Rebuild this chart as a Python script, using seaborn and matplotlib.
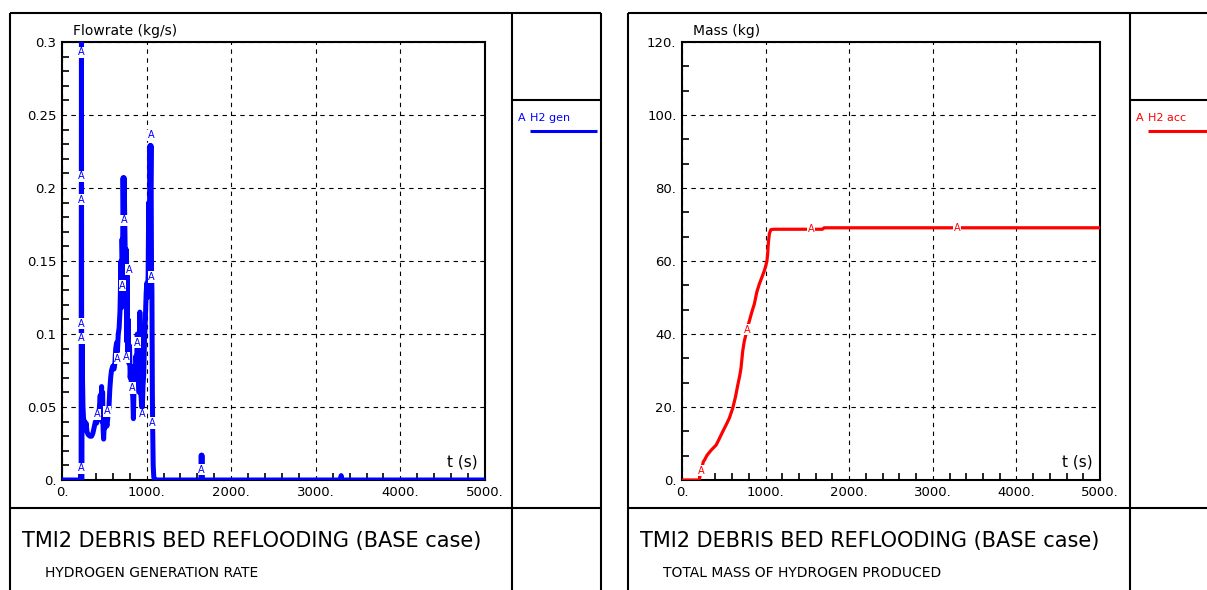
import numpy as np
import pandas as pd
import matplotlib
matplotlib.use("Agg")
import matplotlib.pyplot as plt
from matplotlib.lines import Line2D
from matplotlib.ticker import MultipleLocator
import seaborn as sns

# ---------------- data ----------------
# hydrogen generation rate (kg/s) vs time (s)
gen_t = [0, 226, 230, 233, 236, 242, 248, 255, 265, 275,
         285, 295, 310, 330, 350, 365, 380, 395, 410, 425,
         440, 452, 460, 468, 474, 480, 486, 492, 500, 510,
         520, 532, 545, 555, 565, 575, 585, 600, 615, 625,
         635, 645, 655, 665, 675, 685, 690, 697, 703, 710,
         716, 722, 728, 734, 740, 746, 752, 758, 764, 770,
         776, 782, 790, 798, 806, 814, 822, 830, 838, 844,
         850, 858, 866, 874, 882, 890, 898, 906, 914, 920,
         926, 934, 942, 950, 958, 966, 975, 985, 995, 1003,
         1010, 1018, 1025, 1032, 1040, 1046, 1052, 1058, 1063, 1068,
         1072, 1078, 1085, 1095, 1643, 1646, 1650, 1654, 1658, 3295,
         3300, 3305, 5000]
gen_v = [0.0, 0.0, 0.30, 0.0, 0.100, 0.070, 0.050, 0.042, 0.040, 0.036,
         0.039, 0.033, 0.031, 0.030, 0.030, 0.032, 0.036, 0.040, 0.039, 0.044,
         0.048, 0.058, 0.045, 0.064, 0.040, 0.060, 0.035, 0.028, 0.038, 0.036,
         0.040, 0.037, 0.045, 0.050, 0.062, 0.070, 0.075, 0.078, 0.076, 0.080,
         0.090, 0.094, 0.088, 0.100, 0.104, 0.115, 0.128, 0.150, 0.118, 0.165,
         0.150, 0.207, 0.180, 0.207, 0.185, 0.160, 0.130, 0.158, 0.095, 0.140,
         0.085, 0.110, 0.080, 0.092, 0.070, 0.078, 0.060, 0.066, 0.055, 0.042,
         0.060, 0.078, 0.070, 0.085, 0.078, 0.100, 0.088, 0.095, 0.060, 0.115,
         0.070, 0.058, 0.050, 0.050, 0.065, 0.072, 0.095, 0.110, 0.128, 0.135,
         0.125, 0.140, 0.190, 0.165, 0.229, 0.200, 0.229, 0.145, 0.130, 0.060,
         0.035, 0.010, 0.002, 0.0, 0.0, 0.017, 0.0, 0.017, 0.0, 0.0,
         0.003, 0.0, 0.0]
# curve-identifier "A" labels on the generation-rate curve
gen_mark_t = [226, 230, 230, 230, 230, 230, 417, 536, 655, 714,
              734, 754, 794, 826, 893, 953, 1052, 1058, 1072, 1650]
gen_mark_v = [0.293, 0.208, 0.192, 0.107, 0.097, 0.008, 0.045, 0.047, 0.083, 0.133,
              0.178, 0.084, 0.144, 0.063, 0.094, 0.045, 0.236, 0.139, 0.039, 0.007]

# accumulated hydrogen mass (kg) vs time (s)
acc_t = [0, 205, 230, 255, 270, 300, 350, 409, 450, 488,
         530, 567, 607, 640, 667, 690, 706, 726, 745, 766,
         786, 806, 835, 865, 895, 925, 955, 984, 1000, 1016,
         1025, 1032, 1045, 1063, 1100, 1680, 1700, 5000]
acc_m = [0, 0, 2.5, 5.0, 5.5, 6.8, 8.2, 9.6, 11.5, 13.3,
         15.2, 17.0, 19.7, 22.8, 26.0, 28.5, 30.7, 35.3, 38.0, 40.0,
         42.0, 43.6, 46.0, 48.2, 51.5, 53.7, 55.5, 57.3, 58.5, 60.0,
         62.0, 64.7, 67.5, 68.6, 68.7, 68.7, 69.1, 69.1]
acc_mark_t = [230, 778, 1540, 3290]

x_ticks = [0, 1000, 2000, 3000, 4000, 5000]
x_ticklabels = ["0.", "1000.", "2000.", "3000.", "4000.", "5000."]
gen_yticks = [0, 0.05, 0.1, 0.15, 0.2, 0.25, 0.3]
gen_yticklabels = ["0.", "0.05", "0.1", "0.15", "0.2", "0.25", "0.3"]
acc_yticks = [0, 20, 40, 60, 80, 100, 120]
acc_yticklabels = ["0.", "20.", "40.", "60.", "80.", "100.", "120."]

main_title = "TMI2 DEBRIS BED REFLOODING (BASE case)"
gen_subtitle = "HYDROGEN GENERATION RATE"
acc_subtitle = "TOTAL MASS OF HYDROGEN PRODUCED"
gen_ylabel = "Flowrate (kg/s)"
acc_ylabel = "Mass (kg)"
xlabel = "t (s)"
gen_legend = "H2 gen"
acc_legend = "H2 acc"

BLUE = "#0000ff"
RED = "#ff0000"

# ---------------- figure ----------------
sns.set_theme(style="white")
plt.rcParams["font.family"] = ["DejaVu Sans"]

W, H = 1207, 590
fig = plt.figure(figsize=(W / 100, H / 100), dpi=100)
fig.patch.set_facecolor("white")


def fx(px):
    return px / W


def fy(py):
    return 1 - py / H


def fline(x0, y0, x1, y1, color="black", lw=1.5):
    fig.add_artist(Line2D([fx(x0), fx(x1)], [fy(y0), fy(y1)],
                          transform=fig.transFigure, color=color, lw=lw,
                          solid_capstyle="butt"))


def panel(frame_l, frame_r, divider, ax_l, ax_r, t, y, ymax, yticks, yticklabels,
          yminor, color, lw, ylabel, subtitle, legend_label, mark_t, mark_y):
    # frame
    fline(frame_l, 13, frame_r, 13)
    fline(frame_l, 13, frame_l, 600)
    fline(frame_r, 13, frame_r, 600)
    fline(divider, 13, divider, 600)
    fline(frame_l, 508, frame_r, 508)
    fline(divider, 100, frame_r, 100)

    ax = fig.add_axes([fx(ax_l), fy(480), fx(ax_r) - fx(ax_l), (480 - 42) / H])
    df = pd.DataFrame({"t": t, "y": y})
    sns.lineplot(data=df, x="t", y="y", ax=ax, color=color, lw=lw,
                 estimator=None, sort=False, legend=False, zorder=3)
    for mt, my in zip(mark_t, mark_y):
        ax.text(mt, my, "A", ha="center", va="center", fontsize=7, color=color,
                zorder=4, bbox=dict(facecolor="white", edgecolor="none", pad=0.4))

    ax.set_xlim(0, 5000)
    ax.set_ylim(0, ymax)
    ax.set_xticks(x_ticks)
    ax.set_xticklabels(x_ticklabels)
    ax.set_yticks(yticks)
    ax.set_yticklabels(yticklabels)
    ax.xaxis.set_minor_locator(MultipleLocator(200))
    ax.yaxis.set_minor_locator(MultipleLocator(yminor))
    ax.tick_params(which="both", direction="in", top=False, right=False,
                   bottom=True, left=True, color="black")
    ax.tick_params(which="major", length=0, pad=4, labelsize=9.5, labelcolor="black")
    ax.tick_params(which="minor", length=5, width=1.2)
    ax.grid(True, which="major", color="black", linestyle=(0, (4, 4)), lw=0.8)
    ax.grid(False, which="minor")
    for s in ax.spines.values():
        s.set_visible(True)
        s.set_color("black")
        s.set_linewidth(1.5)
    ax.set_xlabel("")
    ax.set_ylabel("")
    ax.set_facecolor("white")

    axw = ax_r - ax_l
    ax.text(11 / axw, (480 - 31) / 438, ylabel, transform=ax.transAxes,
            ha="left", va="center", fontsize=10, color="black")
    ax.text(1 - 7 / axw, (480 - 462) / 438, xlabel, transform=ax.transAxes,
            ha="right", va="center", fontsize=11, color="black")

    # legend in the side column
    fig.text(fx(divider + 6), fy(118), "A", ha="left", va="center", fontsize=8, color=color)
    fig.text(fx(divider + 18), fy(118), legend_label, ha="left", va="center",
             fontsize=8, color=color)
    fline(divider + 18, 131, min(frame_r - 4, W + 5), 131, color=color, lw=2.2)

    # titles
    fig.text(fx(frame_l + 12), fy(541), main_title, ha="left", va="center",
             fontsize=15, color="black")
    fig.text(fx(frame_l + 35), fy(573), subtitle, ha="left", va="center",
             fontsize=10, color="black")
    return ax


panel(10, 601, 512, 62, 485, gen_t, gen_v, 0.3, gen_yticks, gen_yticklabels,
      0.01, BLUE, 3.6, gen_ylabel, gen_subtitle, gen_legend, gen_mark_t, gen_mark_v)

acc_mark_m = list(np.interp(acc_mark_t, acc_t, acc_m))
panel(628, 1215, 1130, 682, 1100, acc_t, acc_m, 120, acc_yticks, acc_yticklabels,
      20 / 3, RED, 2.3, acc_ylabel, acc_subtitle, acc_legend, acc_mark_t, acc_mark_m)

fig.savefig("out.png", dpi=100, facecolor="white")
